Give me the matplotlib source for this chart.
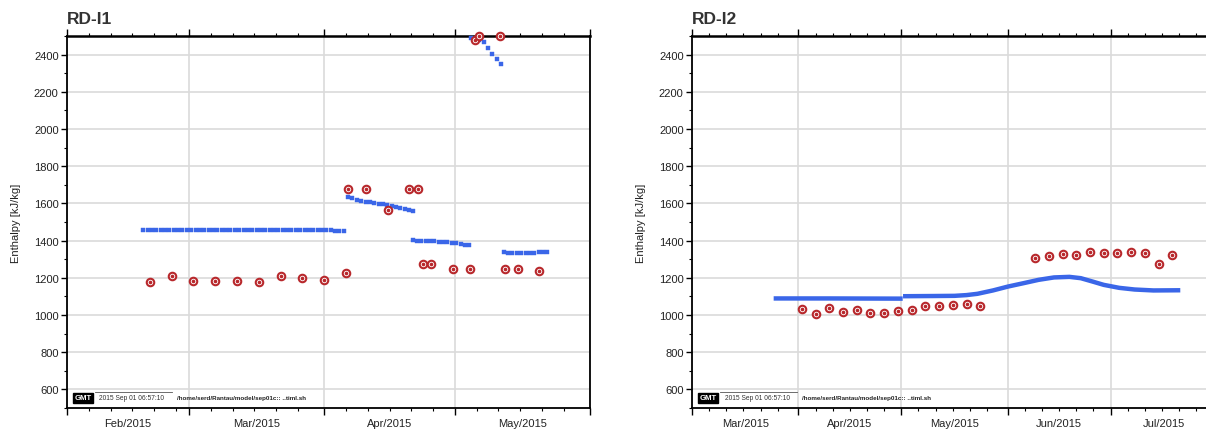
import matplotlib
matplotlib.use("Agg")
import matplotlib.pyplot as plt
import matplotlib.dates as mdates
import pandas as pd

plt.rcParams['font.family'] = ['Liberation Sans', 'DejaVu Sans']

# ---- RD-I1 : observed enthalpy (red)
obs1_dates = ["2015-02-20 00:00", "2015-02-25 00:00", "2015-03-02 00:00", "2015-03-07 00:00",
              "2015-03-12 00:00", "2015-03-17 00:00", "2015-03-22 00:00", "2015-03-27 00:00",
              "2015-04-01 00:00", "2015-04-06 00:00",
              "2015-04-06 14:00", "2015-04-10 14:00", "2015-04-15 14:00", "2015-04-20 12:00",
              "2015-04-22 12:00", "2015-04-23 14:00", "2015-04-25 12:00", "2015-04-30 12:00",
              "2015-05-04 12:00", "2015-05-05 12:00", "2015-05-06 12:00", "2015-05-11 10:00",
              "2015-05-12 10:00", "2015-05-15 10:00", "2015-05-20 08:00"]
obs1_vals = [1178, 1212, 1182, 1182, 1182, 1178, 1209, 1200, 1189, 1228,
             1678, 1678, 1567, 1678, 1678, 1275, 1275, 1246, 1246, 2480,
             2500, 2500, 1250, 1250, 1239]

# ---- RD-I1 : simulated enthalpy (blue), daily values per run segment
sim1_starts = ["2015-02-18 12:00", "2015-04-06 12:00", "2015-04-21 07:00",
               "2015-05-12 05:00", "2015-05-04 14:00"]
sim1_seg1 = [1458, 1458, 1458, 1458, 1458, 1458, 1458, 1458, 1458, 1458,
             1458, 1458, 1458, 1458, 1458, 1458, 1458, 1458, 1458, 1458,
             1458, 1458, 1458, 1458, 1458, 1458, 1458, 1458, 1458, 1458,
             1458, 1458, 1458, 1458, 1458, 1458, 1458, 1458, 1458, 1458,
             1458, 1457, 1456, 1455, 1453, 1452, 1451]
sim1_seg2 = [1633, 1628, 1620, 1615, 1610, 1606, 1603, 1599, 1596, 1592,
             1585, 1580, 1574, 1569, 1564, 1560]
sim1_seg3 = [1401, 1399, 1398, 1397, 1397, 1396, 1395, 1393, 1391, 1389,
             1386, 1383, 1379, 1375]
sim1_seg4 = [1339, 1335, 1333, 1333, 1333, 1334, 1335, 1336, 1337, 1338, 1340]
sim1_seg5 = [2490, 2486, 2478, 2466, 2434, 2401, 2376, 2348]

# ---- RD-I2 : observed enthalpy (red)
obs2_dates = ["2015-04-02", "2015-04-06", "2015-04-10", "2015-04-14", "2015-04-18",
              "2015-04-22", "2015-04-26", "2015-04-30", "2015-05-04", "2015-05-08",
              "2015-05-12", "2015-05-16", "2015-05-20", "2015-05-24",
              "2015-06-09", "2015-06-13", "2015-06-17", "2015-06-21", "2015-06-25",
              "2015-06-29", "2015-07-03", "2015-07-07", "2015-07-11", "2015-07-15",
              "2015-07-19"]
obs2_vals = [1030, 1005, 1040, 1016, 1026, 1012, 1010, 1023, 1026, 1051,
             1051, 1055, 1058, 1051,
             1309, 1316, 1329, 1325, 1340, 1334, 1334, 1338, 1333, 1275, 1320]

# ---- RD-I2 : simulated enthalpy (blue), days after 2015-03-01
sim2a_days = [23.8, 40.0, 61.4]
sim2a_vals = [1089, 1089, 1088]
sim2b_days = [61.5, 70.0, 76.5, 80.0, 83.2, 87.7, 92.1, 96.6, 101.0, 105.5,
              110.0, 113.3, 116.7, 120.0, 124.5, 129.0, 134.5, 142.3]
sim2b_vals = [1101, 1102, 1103, 1107, 1114, 1132, 1153, 1171, 1189, 1202,
              1205, 1198, 1180, 1162, 1146, 1137, 1132, 1133]

RED = '#b8282c'
BLUE = '#3a66e8'
W, H = 1206, 435

fig = plt.figure(figsize=(W / 100, H / 100), dpi=100)
ax1 = fig.add_axes([67 / W, 1 - 409 / H, 523 / W, 372 / H])
ax2 = fig.add_axes([692 / W, 1 - 409 / H, 525 / W, 372 / H])


def style(ax, start, end, months, title):
    ax.set_xlim(pd.Timestamp(start), pd.Timestamp(end))
    ax.set_ylim(500, 2500)
    ax.set_yticks(range(600, 2401, 200))
    ax.set_yticks(range(500, 2501, 100), minor=True)
    ax.xaxis.set_major_locator(mdates.MonthLocator())
    ax.xaxis.set_minor_locator(mdates.DayLocator(bymonthday=[6, 11, 16, 21, 26]))
    ax.xaxis.set_major_formatter(plt.NullFormatter())
    ax.grid(True, which='major', color='#dadada', lw=1.2, zorder=0)
    ax.set_axisbelow(True)
    ax.tick_params(axis='x', which='both', direction='out', top=True, bottom=True)
    ax.tick_params(axis='x', which='major', length=5, width=1)
    ax.tick_params(axis='x', which='minor', length=2.5, width=0.8)
    ax.tick_params(axis='y', which='major', direction='out', length=4, width=1,
                   labelsize=8, pad=2, colors='black', labelcolor='#222222')
    ax.tick_params(axis='y', which='minor', direction='out', length=2.5, width=0.8)
    for s in ax.spines.values():
        s.set_linewidth(1.3)
    ax.spines['top'].set_linewidth(1.8)
    ax.set_ylabel('Enthalpy [kJ/kg]', fontsize=8, color='#222222')
    ax.yaxis.set_label_coords(-0.088, 0.5)
    for m in months:
        m0 = pd.Timestamp(m)
        mid = m0 + (m0 + pd.offsets.MonthBegin(1) - m0) / 2
        ax.text(mid, -0.04, m0.strftime('%b/%Y'), transform=ax.get_xaxis_transform(),
                ha='center', va='center', fontsize=8, color='#222222')
    ax.text(0, 1.035, title, transform=ax.transAxes, ha='left', va='baseline',
            fontsize=12.5, weight='bold', color='#333333')
    # GMT time stamp
    ax.text(0.014, 0.028, 'GMT', transform=ax.transAxes, fontsize=5.6, color='white',
            weight='bold', va='center', ha='left',
            bbox=dict(boxstyle='square,pad=0.2', fc='black', ec='black'))
    ax.plot([0.054, 0.2], [0.043, 0.043], transform=ax.transAxes, color='#555555', lw=0.6)
    ax.text(0.062, 0.028, '2015 Sep 01 06:57:10', transform=ax.transAxes, fontsize=4.8,
            color='#333333', va='center', ha='left')
    ax.text(0.21, 0.028, '/home/serd/Rantau/model/sep01c:: ..timl.sh', transform=ax.transAxes,
            fontsize=4.5, color='#222222', va='center', ha='left', weight='bold')


style(ax1, "2015-02-01", "2015-06-01",
      ["2015-02-01", "2015-03-01", "2015-04-01", "2015-05-01"], 'RD-I1')
style(ax2, "2015-03-01", "2015-08-01",
      ["2015-03-01", "2015-04-01", "2015-05-01", "2015-06-01", "2015-07-01"], 'RD-I2')

# RD-I1 simulation
for st, seg in zip(sim1_starts, [sim1_seg1, sim1_seg2, sim1_seg3, sim1_seg4, sim1_seg5]):
    d = pd.date_range(st, periods=len(seg), freq='D')
    ax1.plot(d, seg, ls='none', marker='s', ms=2.8, color=BLUE, mec=BLUE, mew=0.3,
             zorder=3, clip_on=False)

# RD-I2 simulation
base = pd.Timestamp("2015-03-01")
for days, vals in [(sim2a_days, sim2a_vals), (sim2b_days, sim2b_vals)]:
    d = base + pd.to_timedelta(days, unit='D')
    ax2.plot(d, vals, color=BLUE, lw=3.2, solid_capstyle='butt', zorder=3)

# observations
for ax, dates, vals in [(ax1, obs1_dates, obs1_vals), (ax2, obs2_dates, obs2_vals)]:
    d = pd.to_datetime(dates, format='mixed')
    ax.plot(d, vals, ls='none', marker='o', ms=5.4, mfc='white', mec=RED, mew=1.5,
            zorder=4, clip_on=False)
    ax.plot(d, vals, ls='none', marker='o', ms=1.6, color=RED, mec=RED, zorder=5,
            clip_on=False)

fig.savefig('out.png', dpi=100)
